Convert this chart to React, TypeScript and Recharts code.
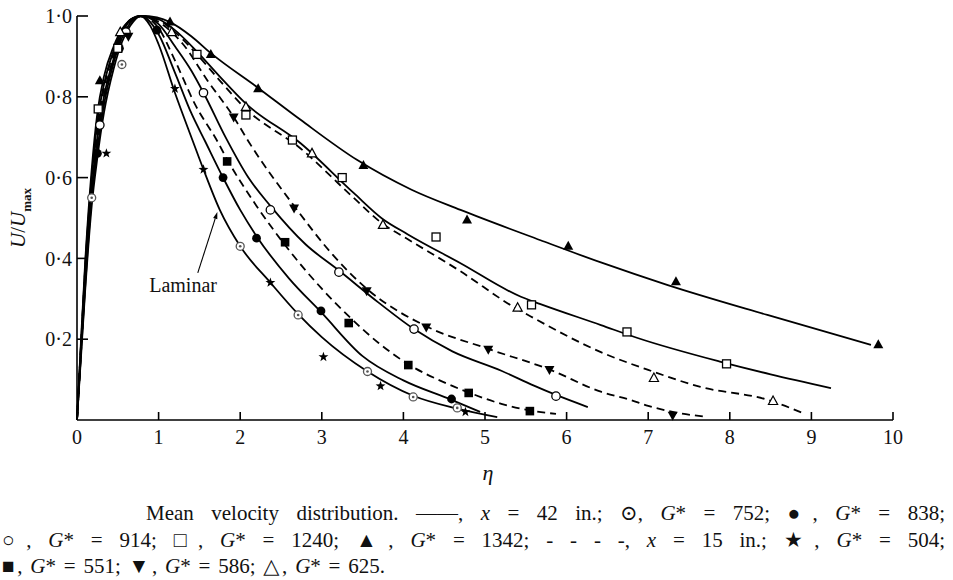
import React from 'react';
import { ComposedChart, Line, Scatter, XAxis, YAxis, ReferenceLine, ReferenceDot } from 'recharts';

type Pt = { x: number; y: number };
const toPts = (rows: number[][]): Pt[] => rows.map(([x, y]) => ({ x, y }));

const SERIF = '"Liberation Serif", "DejaVu Serif", "Times New Roman", serif';

// ---- axis ticks ----
const xTicks = [0, 1, 2, 3, 4, 5, 6, 7, 8, 9, 10];
const xTickLabels = ['0', '1', '2', '3', '4', '5', '6', '7', '8', '9', '10'];
const yTicks = [0.2, 0.4, 0.6, 0.8, 1.0];
const yTickLabels = ['0·2', '0·4', '0·6', '0·8', '1·0'];

// ---- curves (eta, U/Umax) ----
const laminarCurve = [[0,0],[0.05,0.16],[0.1,0.32],[0.18,0.53],[0.25,0.65],[0.33,0.76],[0.45,0.87],[0.55,0.935],[0.65,0.975],[0.78,1.0],[0.9,0.975],[1.0,0.93],[1.2,0.81],[1.42,0.69],[1.55,0.62],[1.75,0.52],[2.0,0.43],[2.37,0.34],[2.71,0.262],[3.0,0.205],[3.56,0.12],[4.12,0.06],[4.66,0.028],[5.15,0.007]];
const g838Curve = [[0,0],[0.05,0.17],[0.1,0.33],[0.18,0.55],[0.25,0.67],[0.33,0.78],[0.45,0.885],[0.55,0.945],[0.65,0.982],[0.78,1.0],[1.0,0.955],[1.2,0.86],[1.4,0.76],[1.57,0.69],[1.79,0.6],[2.0,0.52],[2.2,0.455],[2.6,0.35],[3.0,0.265],[3.5,0.158],[4.0,0.098],[4.59,0.05],[4.94,0.02]];
const g914Curve = [[0,0],[0.05,0.18],[0.1,0.35],[0.18,0.57],[0.25,0.7],[0.33,0.8],[0.45,0.895],[0.55,0.955],[0.65,0.988],[0.78,1.0],[1.0,0.98],[1.2,0.925],[1.4,0.865],[1.55,0.81],[1.82,0.7],[2.1,0.6],[2.37,0.53],[2.8,0.435],[3.21,0.37],[3.7,0.29],[4.13,0.225],[4.6,0.17],[5.2,0.122],[5.6,0.085],[5.87,0.062],[6.26,0.032]];
const g1240Curve = [[0,0],[0.05,0.19],[0.1,0.38],[0.18,0.6],[0.25,0.74],[0.33,0.83],[0.45,0.915],[0.55,0.962],[0.65,0.99],[0.78,1.0],[1.0,0.992],[1.2,0.965],[1.47,0.912],[1.75,0.85],[2.07,0.783],[2.74,0.685],[3.39,0.562],[3.75,0.497],[4.05,0.46],[4.7,0.388],[5.44,0.305],[5.68,0.287],[6.42,0.235],[6.87,0.203],[7.89,0.144],[8.5,0.113],[9.24,0.079]];
const g1342Curve = [[0,0],[0.05,0.2],[0.1,0.39],[0.18,0.62],[0.25,0.76],[0.33,0.85],[0.45,0.925],[0.55,0.967],[0.68,0.993],[0.82,1.0],[1.14,0.985],[1.4,0.95],[1.64,0.908],[2.22,0.822],[2.74,0.743],[3.43,0.644],[4.1,0.57],[4.7,0.52],[5.68,0.445],[6.42,0.39],[7.24,0.334],[8.46,0.26],[9.73,0.186]];
const g551Curve = [[0,0],[0.05,0.17],[0.1,0.34],[0.18,0.56],[0.25,0.68],[0.33,0.785],[0.45,0.89],[0.55,0.95],[0.65,0.985],[0.78,1.0],[1.0,0.97],[1.2,0.89],[1.45,0.78],[1.72,0.69],[1.84,0.645],[2.2,0.53],[2.6,0.42],[3.0,0.325],[3.33,0.257],[3.7,0.19],[4.06,0.138],[4.5,0.093],[4.8,0.068],[5.2,0.04],[5.55,0.024],[5.87,0.015]];
const g586Curve = [[0,0],[0.05,0.18],[0.1,0.35],[0.18,0.57],[0.25,0.7],[0.33,0.8],[0.45,0.9],[0.55,0.955],[0.65,0.99],[0.78,1.0],[1.0,0.985],[1.3,0.93],[1.6,0.84],[1.92,0.75],[2.1,0.69],[2.66,0.53],[3.13,0.41],[3.55,0.325],[4.28,0.232],[5.04,0.176],[5.79,0.125],[6.42,0.07],[6.78,0.05],[7.0,0.035],[7.3,0.02],[7.7,0.008]];
const g625Curve = [[0,0],[0.05,0.19],[0.1,0.37],[0.18,0.59],[0.25,0.72],[0.33,0.82],[0.45,0.91],[0.55,0.96],[0.65,0.99],[0.78,1.0],[1.0,0.99],[1.2,0.96],[1.47,0.905],[1.75,0.84],[2.07,0.77],[2.74,0.672],[3.39,0.55],[3.75,0.485],[4.05,0.448],[4.7,0.368],[5.35,0.28],[5.6,0.252],[6.42,0.168],[7.0,0.124],[7.64,0.082],[8.46,0.05],[8.9,0.017]];

// ---- measured points ----
const g752Points = [[0.18,0.55],[0.55,0.88],[2.0,0.43],[2.71,0.26],[3.56,0.12],[4.12,0.057],[4.66,0.03]];
const g838Points = [[0.25,0.66],[0.52,0.92],[0.98,0.965],[1.79,0.6],[2.2,0.45],[2.99,0.27],[4.59,0.052]];
const g914Points = [[0.28,0.73],[0.6,0.96],[1.55,0.81],[2.37,0.52],[3.21,0.366],[4.13,0.225],[5.87,0.059]];
const g1240Points = [[0.26,0.77],[0.5,0.92],[1.47,0.905],[2.07,0.755],[2.64,0.693],[3.25,0.6],[4.4,0.453],[5.57,0.285],[6.74,0.218],[7.96,0.139]];
const g1342Points = [[0.28,0.84],[1.14,0.985],[1.64,0.905],[2.22,0.82],[3.51,0.63],[4.78,0.495],[6.02,0.43],[7.34,0.342],[9.82,0.186]];
const g504Points = [[0.36,0.66],[1.2,0.82],[1.55,0.62],[2.37,0.34],[3.02,0.156],[3.72,0.084],[4.76,0.02]];
const g551Points = [[1.84,0.64],[2.55,0.44],[3.33,0.24],[4.06,0.136],[4.8,0.067],[5.55,0.022]];
const g586Points = [[0.63,0.95],[1.92,0.75],[2.66,0.525],[3.55,0.32],[4.28,0.23],[5.04,0.175],[5.79,0.125],[7.3,0.012]];
const g625Points = [[0.53,0.96],[1.16,0.96],[2.07,0.775],[2.88,0.66],[3.75,0.483],[5.4,0.278],[7.07,0.104],[8.53,0.047]];

// annotation (data coords)
const laminarArrow = [[1.48, 0.364], [1.72, 0.515]];
const laminarLabelAt = [1.3, 0.334];

const solidCurves = [laminarCurve, g838Curve, g914Curve, g1240Curve, g1342Curve];
const dashedCurves = [g551Curve, g586Curve, g625Curve];

const markerSets: [number[][], string][] = [
  [g752Points, 'dotCircle'],
  [g838Points, 'filledCircle'],
  [g914Points, 'openCircle'],
  [g1240Points, 'openSquare'],
  [g1342Points, 'filledUp'],
  [g504Points, 'star'],
  [g551Points, 'filledSquare'],
  [g586Points, 'filledDown'],
  [g625Points, 'openUp'],
];

function makeShape(kind: string) {
  return (props: any) => {
    const { cx, cy } = props;
    if (cx == null || cy == null) return <g />;
    switch (kind) {
      case 'dotCircle':
        return (
          <g>
            <circle cx={cx} cy={cy} r={4} fill="#fff" stroke="#555" strokeWidth={1.3} />
            <circle cx={cx} cy={cy} r={1.3} fill="#555" />
          </g>
        );
      case 'filledCircle':
        return <circle cx={cx} cy={cy} r={4.4} fill="#000" />;
      case 'openCircle':
        return <circle cx={cx} cy={cy} r={4.2} fill="#fff" stroke="#000" strokeWidth={1.3} />;
      case 'openSquare':
        return <rect x={cx - 4} y={cy - 4} width={8} height={8} fill="#fff" stroke="#000" strokeWidth={1.3} />;
      case 'filledSquare':
        return <rect x={cx - 4.3} y={cy - 4.3} width={8.6} height={8.6} fill="#000" />;
      case 'filledUp':
        return <polygon points={`${cx},${cy - 5.5} ${cx + 5},${cy + 3.5} ${cx - 5},${cy + 3.5}`} fill="#000" />;
      case 'filledDown':
        return <polygon points={`${cx},${cy + 5.5} ${cx + 5},${cy - 3.5} ${cx - 5},${cy - 3.5}`} fill="#000" />;
      case 'openUp':
        return <polygon points={`${cx},${cy - 5} ${cx + 4.6},${cy + 3.5} ${cx - 4.6},${cy + 3.5}`} fill="#fff" stroke="#000" strokeWidth={1.2} />;
      case 'star': {
        const pts: string[] = [];
        for (let i = 0; i < 10; i++) {
          const r = i % 2 === 0 ? 5.2 : 2.1;
          const a = -Math.PI / 2 + (i * Math.PI) / 5;
          pts.push(`${cx + r * Math.cos(a)},${cy + r * Math.sin(a)}`);
        }
        return <polygon points={pts.join(' ')} fill="#000" />;
      }
      default:
        return <g />;
    }
  };
}

const XTick = (props: any) => {
  const { x, y, payload } = props;
  const i = xTicks.indexOf(payload.value);
  return (
    <g>
      {payload.value !== 0 && <line x1={x} y1={y} x2={x} y2={y - 8} stroke="#000" strokeWidth={1.6} />}
      <text x={x} y={y + 24} textAnchor="middle" fontFamily={SERIF} fontSize={20} fill="#111">
        {xTickLabels[i]}
      </text>
    </g>
  );
};

const YTick = (props: any) => {
  const { x, y, payload } = props;
  const i = yTicks.indexOf(payload.value);
  return (
    <g>
      <line x1={x} y1={y} x2={x + 11} y2={y} stroke="#000" strokeWidth={1.6} />
      <text x={x - 5} y={y} dy="0.36em" textAnchor="end" fontFamily={SERIF} fontSize={20} fill="#111">
        {yTickLabels[i]}
      </text>
    </g>
  );
};

const ArrowShape = (props: any) => {
  const { x1, y1, x2, y2 } = props;
  if (x1 == null) return <g />;
  const ang = Math.atan2(y2 - y1, x2 - x1);
  const L = 7, W = 2.2;
  const bx = x2 - L * Math.cos(ang), by = y2 - L * Math.sin(ang);
  const px = -Math.sin(ang) * W, py = Math.cos(ang) * W;
  return (
    <g>
      <line x1={x1} y1={y1} x2={bx} y2={by} stroke="#000" strokeWidth={1.1} />
      <polygon points={`${x2},${y2} ${bx + px},${by + py} ${bx - px},${by - py}`} fill="#000" />
    </g>
  );
};

const LaminarLabel = (props: any) => {
  const { cx, cy } = props;
  return (
    <text x={cx} y={cy} dy="0.35em" textAnchor="middle" fontFamily={SERIF} fontSize={20} fill="#111">
      Laminar
    </text>
  );
};

const YLabel = (props: any) => {
  const vb = props.viewBox || { x: 0, y: 16 };
  const cx = vb.x + 25;
  const cy = 218;
  return (
    <text transform={`rotate(-90 ${cx} ${cy})`} x={cx} y={cy} textAnchor="middle" fontFamily={SERIF} fontSize={21} fill="#111">
      <tspan fontStyle="italic">U</tspan>
      <tspan>/</tspan>
      <tspan fontStyle="italic">U</tspan>
      <tspan fontSize={13} fontWeight="bold" dy={6}>max</tspan>
    </text>
  );
};

const XLabel = (props: any) => {
  const vb = props.viewBox || { x: 77, y: 420, width: 816 };
  return (
    <text x={vb.x + vb.width / 2 + 3} y={vb.y + 60} textAnchor="middle" fontFamily={SERIF} fontStyle="italic" fontSize={22} fill="#111">
      η
    </text>
  );
};

const captionStyle: React.CSSProperties = {
  position: 'absolute',
  fontFamily: SERIF,
  fontSize: 21,
  lineHeight: '24px',
  color: '#111',
  textAlign: 'justify',
  textAlignLast: 'justify' as any,
};

export default function App() {
  return (
    <div style={{ position: 'absolute', left: 0, top: 0, width: 953, height: 580, background: '#fff', overflow: 'hidden' }}>
      <ComposedChart width={953} height={500} margin={{ top: 16, right: 60, left: 0, bottom: 20 }}>
        <XAxis
          type="number"
          dataKey="x"
          domain={[0, 10]}
          ticks={xTicks}
          interval={0}
          tickLine={false}
          tickSize={0}
          tickMargin={0}
          tick={<XTick />}
          height={60}
          axisLine={{ stroke: '#000', strokeWidth: 1.6 }}
          label={<XLabel />}
        />
        <YAxis
          type="number"
          dataKey="y"
          domain={[0, 1]}
          ticks={yTicks}
          interval={0}
          tickLine={false}
          tickSize={0}
          tickMargin={0}
          tick={<YTick />}
          width={77}
          axisLine={{ stroke: '#000', strokeWidth: 1.6 }}
          label={<YLabel />}
        />
        {solidCurves.map((c, i) => (
          <Line
            key={'s' + i}
            data={toPts(c)}
            dataKey="y"
            type="monotone"
            stroke="#000"
            strokeWidth={1.8}
            dot={false}
            activeDot={false}
            isAnimationActive={false}
          />
        ))}
        {dashedCurves.map((c, i) => (
          <Line
            key={'d' + i}
            data={toPts(c)}
            dataKey="y"
            type="monotone"
            stroke="#000"
            strokeWidth={1.8}
            strokeDasharray="8 5"
            dot={false}
            activeDot={false}
            isAnimationActive={false}
          />
        ))}
        {markerSets.map(([d, kind], i) => (
          <Scatter key={'m' + i} data={toPts(d)} dataKey="y" shape={makeShape(kind)} isAnimationActive={false} />
        ))}
        <ReferenceLine
          segment={[
            { x: laminarArrow[0][0], y: laminarArrow[0][1] },
            { x: laminarArrow[1][0], y: laminarArrow[1][1] },
          ]}
          stroke="#000"
          shape={<ArrowShape />}
          ifOverflow="visible"
        />
        <ReferenceDot x={laminarLabelAt[0]} y={laminarLabelAt[1]} r={0} shape={<LaminarLabel />} ifOverflow="visible" />
      </ComposedChart>
      <div style={{ ...captionStyle, left: 146, top: 501, width: 799 }}>
        Mean velocity distribution. ——, <i>x</i> = 42 in.; ⊙, <i>G</i>* = 752; ●, <i>G</i>* = 838;
      </div>
      <div style={{ ...captionStyle, left: 2, top: 528, width: 943 }}>
        ○, <i>G</i>* = 914; □, <i>G</i>* = 1240; ▲, <i>G</i>* = 1342; - - - -, <i>x</i> = 15 in.; ★, <i>G</i>* = 504;
      </div>
      <div style={{ ...captionStyle, left: 2, top: 554, width: 383 }}>
        ■, <i>G</i>* = 551; ▼, <i>G</i>* = 586; △, <i>G</i>* = 625.
      </div>
    </div>
  );
}
